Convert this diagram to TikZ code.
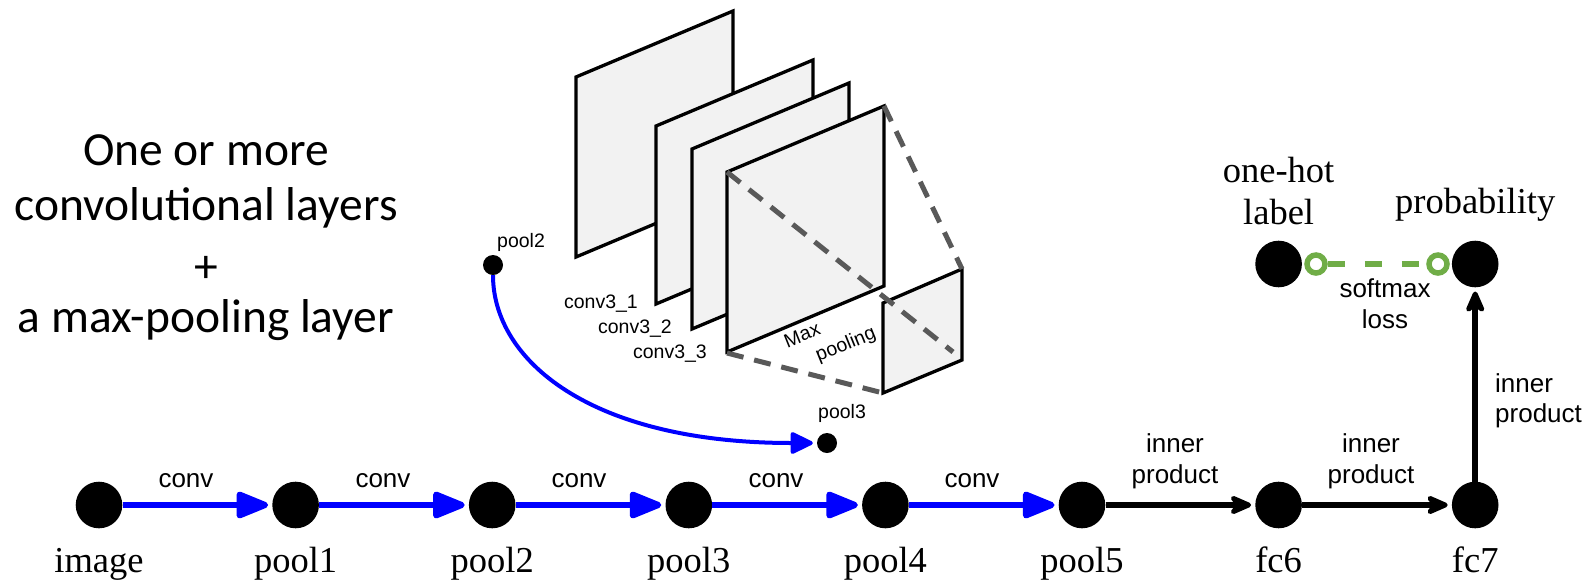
\documentclass[tikz,border=0pt]{standalone}
\usepackage{fontspec}
\setmainfont{Liberation Serif}
\newfontfamily\helv{Liberation Sans}
\newfontfamily\calib{Carlito}
\usetikzlibrary{arrows.meta}
\definecolor{convblue}{RGB}{0,0,255}
\definecolor{lossgreen}{RGB}{112,173,71}
\definecolor{planefill}{RGB}{242,242,242}
\definecolor{frustum}{RGB}{89,89,89}
\tikzset{
  blob/.style={circle, fill=black, inner sep=0pt, minimum size=46.6pt},
  dot/.style={circle, fill=black, inner sep=0pt, minimum size=20pt},
  layername/.style={font=\fontsize{36.5}{40}\selectfont, anchor=base, inner sep=0pt},
  oplabel/.style={font=\helv\fontsize{26}{30}\selectfont, anchor=base, inner sep=0pt},
  smalltext/.style={font=\helv\fontsize{19.5}{22}\selectfont, inner sep=0pt},
  headline/.style={font=\calib\fontsize{47.5}{52}\selectfont, inner sep=0pt},
  convarrow/.style={draw=convblue, line width=6pt, -{Triangle[length=37pt,width=28pt,round]}, shorten >=4pt},
  curvearrow/.style={draw=convblue, line width=4pt, -{Triangle[length=25pt,width=23pt,round]}, shorten >=4pt},
  fcarrow/.style={draw=black, line width=5.5pt, -{Stealth[length=29pt,width=25pt,inset=10pt,round]}, shorten >=4pt},
  plane/.style={draw=black, fill=planefill, line width=3.3pt},
  frustumline/.style={draw=frustum, line width=5pt, dash pattern=on 17pt off 11pt},
  lossline/.style={draw=lossgreen, line width=6.5pt, dash pattern=on 17pt off 20pt},
  lossend/.style={circle, draw=lossgreen, fill=white, line width=5.5pt, inner sep=0pt, minimum size=18pt},
}
\begin{document}
\begin{tikzpicture}[x=1pt, y=-1pt]
\path[use as bounding box, fill=white] (0,0) rectangle (1588,582);

% heading on the left
\node[headline, anchor=base] (h1) at (206,165) {One or more};
\node[headline, anchor=base] (h2) at (206,220.5) {convolutional layers};
\node[headline] (h3) at (206,269.5) {+};
\node[headline, anchor=base] (h4) at (206,332) {a max-pooling layer};

% stack of feature maps (conv3_1 .. conv3_3) and the pooled map
\draw[plane] (576,77) -- ++(157,-66) -- ++(0,180) -- ++(-157,66) -- cycle;
\draw[plane] (656,126) -- ++(157,-66) -- ++(0,178) -- ++(-157,66) -- cycle;
\draw[plane] (692,149) -- ++(157,-66) -- ++(0,180) -- ++(-157,66) -- cycle;
\draw[plane] (727,172) -- ++(157,-66) -- ++(0,180) -- ++(-157,66) -- cycle;
\draw[plane] (883,303) -- ++(79,-34) -- ++(0,91) -- ++(-79,33) -- cycle;

% pooling frustum
\draw[frustumline] (727,172) -- (953,352);
\draw[frustumline] (884,106) -- (962,269);
\draw[frustumline] (727,353) -- (883,393);

\node[smalltext, anchor=base east] (c31) at (638,308) {conv3\_1};
\node[smalltext, anchor=base east] (c32) at (672,333) {conv3\_2};
\node[smalltext, anchor=base east] (c33) at (707,358) {conv3\_3};
\node[smalltext, rotate=22] (mp1) at (802,335) {Max};
\node[smalltext, rotate=22] (mp2) at (846,345) {pooling};

% pool2 -> pool3 inside the block
\node[dot] (p2dot) at (493,265) {};
\node[dot] (p3dot) at (827,443) {};
\node[smalltext, anchor=base west] (p2lab) at (497,247) {pool2};
\node[smalltext, anchor=base west] (p3lab) at (818,418) {pool3};
\draw[curvearrow] (p2dot) .. controls (493,360) and (590,443) .. (p3dot);

% main chain
\node[blob] (image) at (99,505) {};
\node[blob] (pool1) at (295.6,505) {};
\node[blob] (pool2) at (492.2,505) {};
\node[blob] (pool3) at (688.8,505) {};
\node[blob] (pool4) at (885.4,505) {};
\node[blob] (pool5) at (1082,505) {};
\node[blob] (fc6) at (1278.6,505) {};
\node[blob] (fc7) at (1475.2,505) {};
\node[blob] (onehot) at (1278.6,264) {};
\node[blob] (prob) at (1475.2,264) {};

\node[layername] (n-image) at (99,572) {image};
\node[layername] (n-pool1) at (295.6,572) {pool1};
\node[layername] (n-pool2) at (492.2,572) {pool2};
\node[layername] (n-pool3) at (688.8,572) {pool3};
\node[layername] (n-pool4) at (885.4,572) {pool4};
\node[layername] (n-pool5) at (1082,572) {pool5};
\node[layername] (n-fc6) at (1278.6,572) {fc6};
\node[layername] (n-fc7) at (1475.2,572) {fc7};
\node[layername] (n-oh1) at (1278.6,182) {one-hot};
\node[layername] (n-oh2) at (1278.6,224) {label};
\node[layername] (n-prob) at (1475.2,213) {probability};

\draw[convarrow] (image) -- (pool1);
\draw[convarrow] (pool1) -- (pool2);
\draw[convarrow] (pool2) -- (pool3);
\draw[convarrow] (pool3) -- (pool4);
\draw[convarrow] (pool4) -- (pool5);
\node[oplabel] (cv1) at (186,487) {conv};
\node[oplabel] (cv2) at (383,487) {conv};
\node[oplabel] (cv3) at (579,487) {conv};
\node[oplabel] (cv4) at (776,487) {conv};
\node[oplabel] (cv5) at (972,487) {conv};

\draw[fcarrow] (pool5) -- (fc6);
\draw[fcarrow] (fc6) -- (fc7);
\draw[fcarrow] (fc7) -- (prob);
\node[oplabel] (ip1a) at (1175,452) {inner};
\node[oplabel] (ip1b) at (1175,483) {product};
\node[oplabel] (ip2a) at (1371,452) {inner};
\node[oplabel] (ip2b) at (1371,483) {product};
\node[oplabel, anchor=base west] (ip3a) at (1495,392) {inner};
\node[oplabel, anchor=base west] (ip3b) at (1495,422) {product};

% softmax loss between label and probability
\node[lossend] (lossL) at (1316,264) {};
\node[lossend] (lossR) at (1438,264) {};
\draw[lossline] (lossL.east) -- (lossR.west);
\node[oplabel] (sm1) at (1385,297) {softmax};
\node[oplabel] (sm2) at (1385,328) {loss};
\end{tikzpicture}
\end{document}
